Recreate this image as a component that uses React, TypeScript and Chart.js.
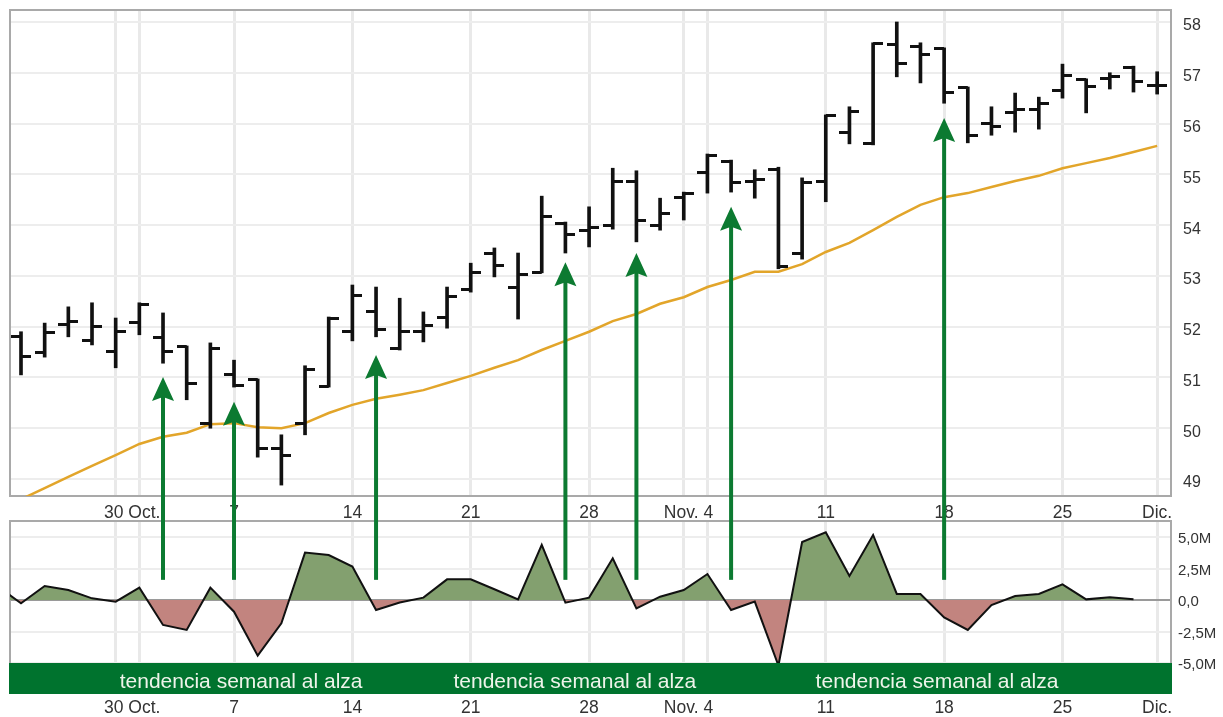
import React, { useEffect, useRef } from 'react';
import { Chart, registerables } from 'chart.js';

Chart.register(...registerables);

const FONT = '"Liberation Sans", Arial, Helvetica, sans-serif';

// ---- data (trading-day index 0..48) ----
const openP = [51.80, 51.50, 52.05, 51.72, 51.52, 52.09, 51.78, 51.60, 50.10, 51.05, 50.95, 49.61, 50.10, 50.83, 51.90, 52.29, 51.56, 51.90, 52.19, 52.74, 53.45, 52.78, 53.06, 54.04, 53.90, 54.00, 54.85, 54.00, 54.55, 55.03, 55.26, 54.85, 55.09, 53.45, 54.85, 55.83, 55.60, 57.55, 57.51, 57.47, 56.70, 56.00, 56.22, 56.27, 56.66, 56.86, 56.88, 57.11, 56.75];
const highP = [51.90, 52.07, 52.39, 52.47, 52.17, 52.47, 52.27, 51.62, 51.68, 51.34, 50.97, 49.87, 51.23, 52.19, 52.82, 52.78, 52.56, 52.29, 52.78, 53.25, 53.55, 53.45, 54.57, 54.06, 54.36, 55.12, 55.07, 54.53, 54.65, 55.40, 55.28, 55.09, 55.14, 54.93, 56.17, 56.33, 57.59, 58.00, 57.59, 57.49, 56.72, 56.33, 56.60, 56.52, 57.17, 56.88, 57.00, 57.13, 57.02];
const lowP = [51.05, 51.40, 51.80, 51.64, 51.19, 51.84, 51.28, 50.56, 50.00, 50.81, 49.43, 48.88, 49.87, 50.81, 51.72, 51.80, 51.54, 51.70, 51.97, 52.68, 52.98, 52.15, 53.06, 53.45, 53.57, 53.92, 53.67, 53.90, 54.10, 54.63, 54.65, 54.53, 53.14, 53.33, 54.46, 55.60, 55.58, 56.92, 56.80, 56.40, 55.62, 55.77, 55.83, 55.89, 56.50, 56.21, 56.68, 56.62, 56.58];
const closeP = [51.42, 51.88, 52.10, 52.01, 51.90, 52.43, 51.52, 50.89, 51.56, 50.85, 49.61, 49.47, 51.15, 52.17, 52.62, 51.95, 51.90, 52.03, 52.60, 53.06, 53.20, 53.02, 54.16, 53.81, 53.95, 54.85, 54.10, 54.22, 54.62, 55.38, 54.83, 54.90, 53.18, 54.83, 56.15, 56.23, 57.57, 57.19, 57.35, 56.62, 55.77, 55.95, 56.28, 56.40, 56.94, 56.72, 56.92, 56.82, 56.75];
const maVals = [48.60, 48.82, 49.04, 49.26, 49.47, 49.69, 49.83, 49.91, 50.08, 50.10, 50.02, 50.00, 50.10, 50.30, 50.46, 50.58, 50.66, 50.75, 50.89, 51.03, 51.19, 51.34, 51.54, 51.72, 51.90, 52.11, 52.25, 52.45, 52.58, 52.78, 52.92, 53.08, 53.08, 53.23, 53.47, 53.65, 53.90, 54.16, 54.40, 54.55, 54.63, 54.75, 54.87, 54.97, 55.12, 55.22, 55.32, 55.44, 55.56];

// money-flow series, starts at index -1
const flowStart = -1;
const flowVals = [1.10, -0.26, 1.11, 0.79, 0.13, -0.13, 0.98, -1.98, -2.38, 0.98, -0.93, -4.42, -1.85, 3.76, 3.57, 2.65, -0.79, -0.20, 0.19, 1.64, 1.64, 0.85, 0.05, 4.37, -0.21, 0.19, 3.31, -0.66, 0.26, 0.79, 2.06, -0.79, -0.13, -5.20, 4.60, 5.37, 1.90, 5.16, 0.48, 0.48, -1.38, -2.38, -0.40, 0.32, 0.48, 1.24, 0.05, 0.21, 0.05];

const gridIdx = [4, 5, 9, 14, 19, 24, 28, 29, 34, 39, 44, 48];
const labelPos = [4.7, 9, 14, 19, 24, 28.2, 34, 39, 44, 48];
const labelText = ['30 Oct.', '7', '14', '21', '28', 'Nov. 4', '11', '18', '25', 'Dic.'];

const priceTicks = [49, 50, 51, 52, 53, 54, 55, 56, 57, 58];
const flowTicks = [-5, -2.5, 0, 2.5, 5];
const flowTickLabels = ['-5,0M', '-2,5M', '0,0', '2,5M', '5,0M'];

const arrowIdx = [6, 9, 15, 23, 26, 30, 39];
const arrowTip = [51.01, 50.52, 51.44, 53.27, 53.45, 54.36, 56.11];
const arrowBase = 1.6;

const bandTop = -5;
const bandText = 'tendencia semanal al alza';
const bandPos = [9.3, 23.4, 38.7];

// ---- layout constants ----
const W = 1223;
const TOP_H = 520;
const BOT_H = 197;
const X_MIN = -0.4647;
const X_MAX = 48.585;
const ARROW_COLOR = '#0c7a31';
const BAND_COLOR = '#00732e';

const allXTicks = Array.from(new Set([...gridIdx, ...labelPos])).sort((a, b) => a - b);

function xAxis(pad: number) {
  return {
    type: 'linear',
    position: 'bottom',
    min: X_MIN,
    max: X_MAX,
    offset: false,
    afterBuildTicks: (s: any) => {
      s.ticks = allXTicks.map((v) => ({ value: v }));
    },
    afterFit: (s: any) => {
      s.height = 24;
      s.paddingLeft = 0;
      s.paddingRight = 0;
    },
    grid: {
      offset: false,
      drawTicks: false,
      lineWidth: 3,
      color: (c: any) => (c.tick && gridIdx.includes(c.tick.value) ? '#e9e9e9' : 'rgba(0,0,0,0)'),
    },
    border: { display: false },
    ticks: {
      autoSkip: false,
      maxRotation: 0,
      minRotation: 0,
      padding: pad,
      color: '#333',
      font: { family: FONT, size: 17.5 },
      callback: (v: any) => {
        const k = labelPos.indexOf(Number(v));
        return k >= 0 ? labelText[k] : '';
      },
    },
  };
}

const boxPlugin = {
  id: 'box',
  beforeDatasetsDraw(chart: any) {
    const { ctx, chartArea: a } = chart;
    ctx.save();
    ctx.strokeStyle = '#a9a9a9';
    ctx.lineWidth = 2;
    ctx.strokeRect(a.left, a.top, a.right - a.left, a.bottom - a.top);
    ctx.restore();
  },
};

function drawArrowLine(ctx: any, x: number, y1: number, y2: number) {
  ctx.beginPath();
  ctx.moveTo(x, y1);
  ctx.lineTo(x, y2);
  ctx.stroke();
}

const topArrows = {
  id: 'topArrows',
  afterDraw(chart: any) {
    const { ctx } = chart;
    const xs = chart.scales.x;
    const ys = chart.scales.y;
    ctx.save();
    ctx.strokeStyle = ARROW_COLOR;
    ctx.fillStyle = ARROW_COLOR;
    ctx.lineWidth = 4;
    ctx.lineCap = 'butt';
    arrowIdx.forEach((idx, i) => {
      const x = xs.getPixelForValue(idx);
      const yt = ys.getPixelForValue(arrowTip[i]);
      drawArrowLine(ctx, x, chart.height, yt + 18);
      ctx.beginPath();
      ctx.moveTo(x, yt);
      ctx.lineTo(x + 11, yt + 24);
      ctx.lineTo(x, yt + 20);
      ctx.lineTo(x - 11, yt + 24);
      ctx.closePath();
      ctx.fill();
    });
    ctx.restore();
  },
};

const bottomArrows = {
  id: 'bottomArrows',
  afterDraw(chart: any) {
    const { ctx } = chart;
    const xs = chart.scales.x;
    const ys = chart.scales.y;
    ctx.save();
    ctx.strokeStyle = ARROW_COLOR;
    ctx.lineWidth = 4;
    arrowIdx.forEach((idx) => {
      const x = xs.getPixelForValue(idx);
      drawArrowLine(ctx, x, 0, ys.getPixelForValue(arrowBase));
    });
    ctx.restore();
  },
};

const bandPlugin = {
  id: 'band',
  afterDatasetsDraw(chart: any) {
    const { ctx, chartArea: a } = chart;
    const xs = chart.scales.x;
    const ys = chart.scales.y;
    const top = ys.getPixelForValue(bandTop);
    ctx.save();
    ctx.fillStyle = BAND_COLOR;
    ctx.fillRect(a.left - 1, top, a.right - a.left + 2, a.bottom - top + 1);
    ctx.fillStyle = '#eef4ea';
    ctx.font = `21px ${FONT}`;
    ctx.textAlign = 'center';
    ctx.textBaseline = 'alphabetic';
    bandPos.forEach((p) => {
      ctx.fillText(bandText, xs.getPixelForValue(p), a.bottom - 5);
    });
    ctx.restore();
  },
};

function makeTick(side: 'left' | 'right') {
  const c = document.createElement('canvas');
  c.width = 20;
  c.height = 3;
  const g = c.getContext('2d')!;
  g.fillStyle = '#111';
  if (side === 'left') g.fillRect(0, 0, 10, 3);
  else g.fillRect(10, 0, 10, 3);
  return c;
}

export default function App() {
  const topRef = useRef<HTMLCanvasElement>(null);
  const botRef = useRef<HTMLCanvasElement>(null);

  useEffect(() => {
    Chart.defaults.font.family = FONT;
    const leftTick = makeTick('left');
    const rightTick = makeTick('right');
    const idx = openP.map((_, i) => i);

    const top = new Chart(topRef.current!, {
      type: 'line',
      data: {
        datasets: [
          {
            type: 'line',
            data: idx.map((i) => ({ x: i, y: maVals[i] })),
            borderColor: '#e2a52a',
            borderWidth: 2.5,
            pointRadius: 0,
            tension: 0,
            fill: false,
            order: 3,
          } as any,
          {
            type: 'bar',
            data: idx.map((i) => ({ x: i, y: [lowP[i], highP[i]] })),
            backgroundColor: '#111',
            borderWidth: 0,
            barThickness: 3,
            order: 2,
          } as any,
          {
            type: 'line',
            data: idx.map((i) => ({ x: i, y: openP[i] })),
            showLine: false,
            pointStyle: leftTick,
            pointRadius: 3,
            order: 1,
          } as any,
          {
            type: 'line',
            data: idx.map((i) => ({ x: i, y: closeP[i] })),
            showLine: false,
            pointStyle: rightTick,
            pointRadius: 3,
            order: 0,
          } as any,
        ],
      },
      options: {
        responsive: false,
        animation: false,
        events: [],
        layout: { padding: { left: 10, top: 10, right: 0, bottom: 0 } },
        plugins: { legend: { display: false }, tooltip: { enabled: false } },
        scales: {
          x: xAxis(7) as any,
          y: {
            type: 'linear',
            position: 'right',
            min: 48.665,
            max: 58.236,
            afterBuildTicks: (s: any) => {
              s.ticks = priceTicks.map((v) => ({ value: v }));
            },
            afterFit: (s: any) => {
              s.width = 52;
              s.paddingTop = 0;
              s.paddingBottom = 0;
            },
            grid: { color: '#ededed', lineWidth: 2, drawTicks: false },
            border: { display: false },
            ticks: { padding: 12, labelOffset: 4, color: '#333', font: { family: FONT, size: 16 } },
          } as any,
        },
      },
      plugins: [boxPlugin, topArrows],
    });

    const flowData = flowVals.map((v, i) => ({ x: flowStart + i, y: v }));
    const bottom = new Chart(botRef.current!, {
      type: 'line',
      data: {
        datasets: [
          {
            data: flowData,
            borderColor: '#111',
            borderWidth: 2,
            pointRadius: 0,
            tension: 0,
            fill: { target: 'origin', above: '#83a06f', below: '#c2847f' },
          } as any,
        ],
      },
      options: {
        responsive: false,
        animation: false,
        events: [],
        layout: { padding: { left: 10, top: 1, right: 0, bottom: 0 } },
        plugins: { legend: { display: false }, tooltip: { enabled: false } },
        scales: {
          x: xAxis(5) as any,
          y: {
            type: 'linear',
            position: 'right',
            min: -7.381,
            max: 6.27,
            afterBuildTicks: (s: any) => {
              s.ticks = flowTicks.map((v) => ({ value: v }));
            },
            afterFit: (s: any) => {
              s.width = 52;
              s.paddingTop = 0;
              s.paddingBottom = 0;
            },
            grid: {
              drawTicks: false,
              lineWidth: 2,
              color: (c: any) => (c.tick && c.tick.value === 0 ? '#9a9a9a' : '#ededed'),
            },
            border: { display: false },
            ticks: {
              padding: 7,
              labelOffset: 2,
              color: '#333',
              font: { family: FONT, size: 15 },
              callback: (v: any) => {
                const k = flowTicks.indexOf(Number(v));
                return k >= 0 ? flowTickLabels[k] : '';
              },
            },
          } as any,
        },
      },
      plugins: [boxPlugin, bandPlugin, bottomArrows],
    });

    return () => {
      top.destroy();
      bottom.destroy();
    };
  }, []);

  return (
    <div style={{ position: 'absolute', left: 0, top: 0, width: W, height: TOP_H + BOT_H, background: '#fff' }}>
      <canvas ref={topRef} width={W} height={TOP_H} style={{ display: 'block', width: W, height: TOP_H }} />
      <canvas ref={botRef} width={W} height={BOT_H} style={{ display: 'block', width: W, height: BOT_H }} />
    </div>
  );
}
